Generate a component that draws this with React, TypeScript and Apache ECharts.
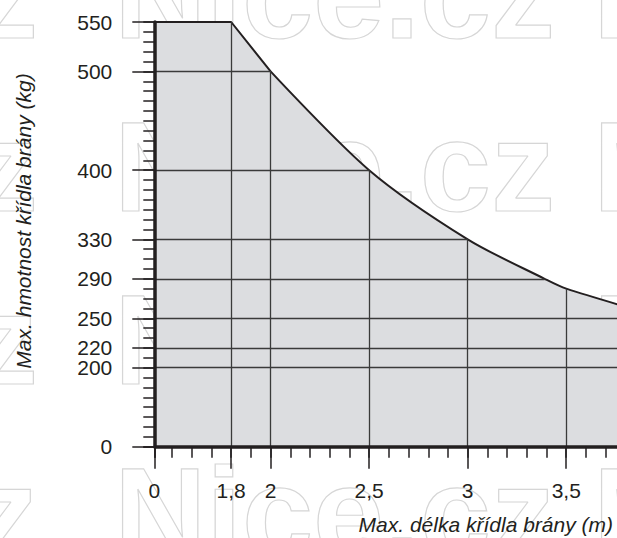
import { useEffect, useRef } from 'react';
import * as echarts from 'echarts';

// ---- data ----
const edgeLengths = [0, 1.8, 2];
const edgeWeights = [550, 550, 500];
const curveLengths = [2, 2.5, 3, 3.39, 3.5, 4, 4.5, 5];
const curveWeights = [500, 400, 330, 290, 280, 250, 220, 200];
const hGridWeights = [500, 400, 330, 290, 250, 220, 200];
const hGridEnds = [2, 2.5, 3, 3.39, 4, 4.5, 5];
const vGridLengths = [1.8, 2, 2.5, 3, 3.5];
const vGridEnds = [550, 500, 400, 330, 280];
const xTickValues = [0, 1.8, 2, 2.5, 3, 3.5, 4, 4.5, 5];
const xTickLabels = ['0', '1,8', '2', '2,5', '3', '3,5', '4', '4,5', '5'];
const yTickValues = [0, 200, 220, 250, 290, 330, 400, 500, 550];
const xBreak = { start: 0, end: 1.41 };
const yBreak = { start: 0, end: 120 };
const xName = 'Max. délka křídla brány (m)';
const yName = 'Max. hmotnost křídla brány (kg)';
const watermarkText = 'Nice.cz';

const INK = '#231f20';
const GRIDLINE = '#3a3a3a';
const FILL = '#dcdde0';
const WM = '#d6d6d6';
const FONT = '"Liberation Sans", Arial, Helvetica, sans-serif';

export default function App() {
  const ref = useRef<HTMLDivElement>(null);
  useEffect(() => {
    if (!ref.current) return;
    const chart = echarts.init(ref.current, undefined, { renderer: 'svg' });

    const xCommon: any = {
      type: 'value',
      gridIndex: 0,
      min: 0,
      max: 5,
      position: 'bottom',
      breaks: [{ start: xBreak.start, end: xBreak.end, gap: 0 }],
      breakArea: { show: false },
      splitLine: { show: false },
      z: 10,
    };
    const yCommon: any = {
      type: 'value',
      gridIndex: 0,
      min: 0,
      max: 550,
      position: 'left',
      breaks: [{ start: yBreak.start, end: yBreak.end, gap: 0 }],
      breakArea: { show: false },
      splitLine: { show: false },
      z: 10,
    };
    const tickStyle = { color: INK, width: 1.5 };
    const labelStyle = { color: INK, fontSize: 21, fontFamily: FONT };

    // decorative background watermark (outlined text)
    const wmFont = 'bold 128px "Liberation Sans", sans-serif';
    const wmRows = [-7, 166, 339, 512];
    const wmElems: any[] = [];
    wmRows.forEach((y) => {
      [
        { x: 555, align: 'right' },
        { x: 38, align: 'right' },
        { x: 593, align: 'left' },
      ].forEach((c) => {
        wmElems.push({
          type: 'text',
          x: c.x,
          y,
          z: -10,
          silent: true,
          style: {
            text: watermarkText,
            font: wmFont,
            fill: 'none',
            stroke: WM,
            lineWidth: 1.2,
            align: c.align,
            verticalAlign: 'middle',
          },
        });
      });
    });

    const option: any = {
      animation: false,
      backgroundColor: '#ffffff',
      grid: {
        left: 154.3,
        top: 22,
        width: 707.6,
        height: 424.7,
        containLabel: false,
        outerBoundsMode: 'none',
      },
      xAxis: [
        {
          ...xCommon,
          axisLine: { show: true, onZero: false, lineStyle: { color: INK, width: 3.5 } },
          axisTick: { show: true, customValues: xTickValues, length: 22, lineStyle: tickStyle },
          axisLabel: {
            show: true,
            customValues: xTickValues,
            margin: 33,
            ...labelStyle,
            formatter: (v: number) => {
              const i = xTickValues.indexOf(v);
              return i >= 0 ? xTickLabels[i] : '';
            },
          },
        },
        {
          ...xCommon,
          interval: 0.1,
          axisLine: { show: false, onZero: false },
          axisTick: { show: true, length: 11, lineStyle: tickStyle },
          axisLabel: { show: false },
        },
      ],
      yAxis: [
        {
          ...yCommon,
          axisLine: { show: true, onZero: false, lineStyle: { color: INK, width: 3.5 } },
          axisTick: { show: true, customValues: yTickValues, length: 22, lineStyle: tickStyle },
          axisLabel: {
            show: true,
            customValues: yTickValues,
            margin: 42,
            ...labelStyle,
            formatter: (v: number) => String(v),
          },
        },
        {
          ...yCommon,
          interval: 10,
          axisLine: { show: false, onZero: false },
          axisTick: { show: true, length: 11, lineStyle: tickStyle },
          axisLabel: { show: false },
        },
      ],
      graphic: [
        ...wmElems,
        {
          type: 'text',
          x: 613,
          y: 524,
          z: 20,
          style: {
            text: xName,
            font: `italic 21px ${FONT}`,
            fill: INK,
            align: 'right',
            verticalAlign: 'middle',
          },
        },
        {
          type: 'text',
          x: 23,
          y: 221,
          rotation: Math.PI / 2,
          z: 20,
          style: {
            text: yName,
            font: `italic 21px ${FONT}`,
            fill: INK,
            align: 'center',
            verticalAlign: 'middle',
          },
        },
      ],
      series: [
        {
          type: 'line',
          xAxisIndex: 0,
          yAxisIndex: 0,
          data: edgeLengths.map((x, i) => [x, edgeWeights[i]]),
          symbol: 'none',
          clip: false,
          z: 3,
          lineStyle: { color: INK, width: 2 },
          areaStyle: { color: FILL, opacity: 1 },
          silent: true,
        },
        {
          type: 'line',
          xAxisIndex: 0,
          yAxisIndex: 0,
          data: curveLengths.map((x, i) => [x, curveWeights[i]]),
          symbol: 'none',
          smooth: 0.3,
          clip: false,
          z: 3,
          lineStyle: { color: INK, width: 2 },
          areaStyle: { color: FILL, opacity: 1 },
          silent: true,
        },
        {
          type: 'lines',
          coordinateSystem: 'cartesian2d',
          xAxisIndex: 0,
          yAxisIndex: 0,
          z: 4,
          silent: true,
          lineStyle: { color: GRIDLINE, width: 1.3, opacity: 1 },
          data: [
            ...hGridWeights.map((w, i) => ({ coords: [[0, w], [hGridEnds[i], w]] })),
            ...vGridLengths.map((l, i) => ({ coords: [[l, 0], [l, vGridEnds[i]]] })),
          ],
        },
      ],
    };
    chart.setOption(option);
    return () => chart.dispose();
  }, []);
  return (
    <div
      ref={ref}
      style={{ position: 'absolute', left: 0, top: 0, width: 617, height: 538, background: '#fff' }}
    />
  );
}
